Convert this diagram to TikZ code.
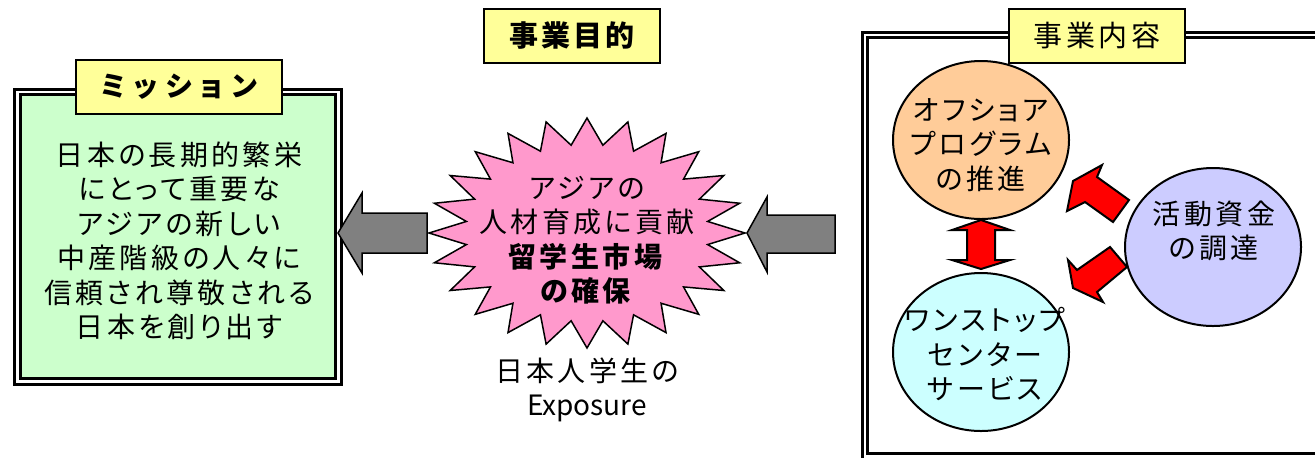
\documentclass[tikz,border=0pt]{standalone}
\usepackage{fontspec}
\setmainfont{Noto Sans CJK JP}[RawFeature=+palt]
\usetikzlibrary{shapes.geometric}
\definecolor{mint}{HTML}{CCFFCC}
\definecolor{tabyellow}{HTML}{FFFF99}
\definecolor{burstpink}{HTML}{FF99CC}
\definecolor{arrowgrey}{HTML}{808080}
\definecolor{peach}{HTML}{FFCC99}
\definecolor{paleblue}{HTML}{CCFFFF}
\definecolor{lavender}{HTML}{CCCCFF}
\tikzset{%
	tab/.style = {draw,line width=1pt,fill=tabyellow,inner sep=0,minimum height=27pt,font=\fontsize{14.5}{17}\selectfont\addfontfeature{LetterSpace=12}},
	frame/.style = {draw,line width=1.5pt,double=white,double distance=1.25pt,inner sep=0},
	txt/.style = {align=center,inner sep=0,font=\fontsize{14}{17.25}\selectfont\addfontfeature{LetterSpace=12}},
	blob/.style = {ellipse,draw,line width=1pt,minimum width=88pt,minimum height=79pt,inner sep=0},
	greyarrow/.style = {draw,line width=0.75pt,fill=arrowgrey},
	redarrow/.style = {draw,line width=1pt,fill=red,line join=miter}%
}
\begin{document}
\begin{tikzpicture}[x=0.5pt,y=-0.5pt]
	\clip (0,0) rectangle (1315,457);
	
	\node(mission)[frame,fill=mint,minimum width=160.5pt,minimum height=144.75pt] at (178,236.75){};
	\node(work)[frame,fill=white,minimum width=232.5pt,minimum height=210.75pt] at (1097.5,245.75){};
	\node(missiontab)[tab,minimum width=103pt,font=\fontsize{14}{17}\selectfont\bfseries\addfontfeature{LetterSpace=30}] at (179,86.5){ミッション};
	\node(goaltab)[tab,minimum width=88pt,font=\fontsize{14.5}{17}\selectfont\bfseries\addfontfeature{LetterSpace=10}] at (572,35.5){事業目的};
	\node(worktab)[tab,minimum width=88pt] at (1097,35.5){事業内容};
	\node(missiontext)[txt] at (179,241){日本の長期的繁栄\\にとって重要な\\アジアの新しい\\中産階級の人々に\\信頼され尊敬される\\日本を創り出す};
	
	\draw[line width=0.75pt,fill=burstpink] plot[samples at={0,...,47}]
		({587+158*(1-0.23*mod(\x,2))*cos(90+7.5*\x)},{233-115*(1-0.23*mod(\x,2))*sin(90+7.5*\x)}) -- cycle;
	\node(goal)[txt] at (587,240){アジアの\\人材育成に貢献\\\textbf{留学生市場}\\\textbf{の確保}};
	\node(exposure)[txt] at (587,390){日本人学生の\\{\addfontfeature{LetterSpace=0}Exposure}};
	
	\draw[greyarrow] (338,233) -- (362,193) -- (362,213) -- (427,213) -- (427,253) -- (362,253) -- (362,273) -- cycle;
	\draw[greyarrow] (747,233) -- (767,197) -- (767,215) -- (835,215) -- (835,253) -- (767,253) -- (767,272) -- cycle;
	
	\draw[redarrow] (981,220) -- (1010,230) -- (995,230) -- (995,260) -- (1010,260) -- (981,269) -- (952,260) -- (967,260) -- (967,230) -- (952,230) -- cycle;
	\draw[redarrow] (1073,181) -- (1102,165) -- (1097,177) -- (1129,200) -- (1113,222) -- (1085,202) -- (1067,211) -- cycle;
	\draw[redarrow] (1110,247) -- (1127,267) -- (1097,292) -- (1103,302) -- (1073,288) -- (1068,260) -- (1077,270) -- cycle;
	
	\node(offshore)[blob,fill=peach] at (981,140){};
	\node(onestop)[blob,fill=paleblue] at (981,352){};
	\node(fund)[blob,fill=lavender] at (1213,247){};
	\node(offshoretext)[txt] at (981,145){オフショア\\プログラム\\の推進};
	\node(onestoptext)[txt] at (985,354){ワンストップ\\センター\\サービス};
	\node(fundtext)[txt] at (1214,231){活動資金\\の調達};
\end{tikzpicture}
\end{document}
